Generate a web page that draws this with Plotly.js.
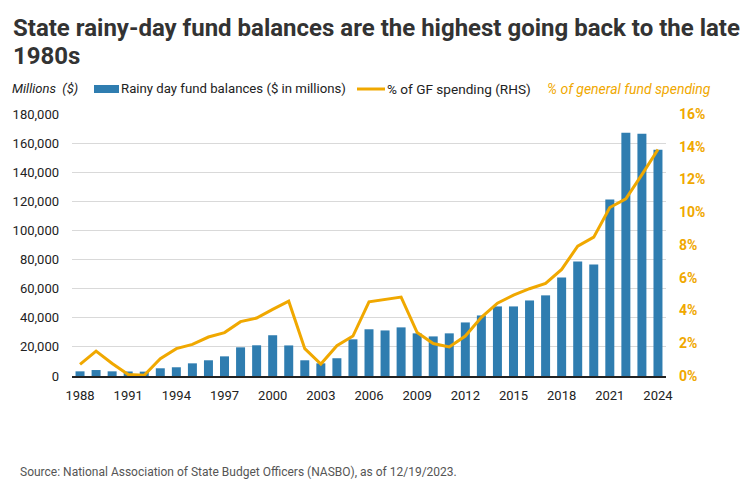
<!DOCTYPE html>
<html>
<head>
<meta charset="utf-8">
<script src="https://cdn.plot.ly/plotly-3.0.1.min.js"></script>
<style>
  html, body { margin: 0; padding: 0; background: #fff; }
  #chart { width: 751px; height: 492px; }
</style>
</head>
<body>
<div id="chart"></div>
<script>
// fiscal years shown on the x axis
const years = [1988, 1989, 1990, 1991, 1992, 1993, 1994, 1995, 1996, 1997, 1998, 1999,
  2000, 2001, 2002, 2003, 2004, 2005, 2006, 2007, 2008, 2009, 2010, 2011, 2012,
  2013, 2014, 2015, 2016, 2017, 2018, 2019, 2020, 2021, 2022, 2023, 2024];

// rainy day fund balances, $ millions
const balances = [3200, 4100, 3200, 3100, 3000, 5300, 6000, 8700, 10800, 13500, 19700, 21100,
  28000, 21000, 10800, 8700, 12200, 25200, 32100, 31300, 33400, 29300, 27200, 29300, 36800,
  41600, 47800, 47800, 51900, 55400, 67700, 78700, 76600, 121200, 167200, 166500, 155500];

// balance as % of general fund spending (RHS)
const pctGF = [0.71, 1.52, 0.76, 0.09, 0.05, 1.06, 1.67, 1.93, 2.38, 2.65, 3.32, 3.54,
  4.07, 4.57, 1.67, 0.73, 1.85, 2.44, 4.53, 4.68, 4.82, 2.65, 1.98, 1.77, 2.44,
  3.58, 4.45, 4.94, 5.33, 5.65, 6.51, 7.93, 8.48, 10.29, 10.82, 12.3, 13.83];

const xTicks = [1988, 1991, 1994, 1997, 2000, 2003, 2006, 2009, 2012, 2015, 2018, 2021, 2024];

const titleLines = [
  'State rainy-day fund balances are the highest going back to the late',
  '1980s',
];

const BLUE = '#2f7db0';
const GOLD = '#f0a800';
const FONT = 'Roboto, "Liberation Sans", sans-serif';

const traces = [
  {
    type: 'bar',
    x: years,
    y: balances,
    name: 'Rainy day fund balances ($ in millions)',
    marker: { color: BLUE },
    width: 0.56,
    hoverinfo: 'x+y',
  },
  {
    type: 'scatter',
    mode: 'lines',
    x: years,
    y: pctGF,
    yaxis: 'y2',
    name: '% of GF spending (RHS)',
    line: { color: GOLD, width: 3 },
  },
];

// pixel -> paper helpers; plot area spans x 72..666, y 114..376
const px = p => (p - 72) / 594;
const py = p => (376 - p) / 262;

const annotations = titleLines.map((t, i) => ({
  text: '<b>' + t + '</b>',
  xref: 'paper', yref: 'paper',
  x: px(11), y: py(28 + i * 28), xanchor: 'left', yanchor: 'middle',
  showarrow: false,
  font: { family: FONT, size: 24, color: '#333' },
}));

function label(text, x, y, font) {
  return { text, xref: 'paper', yref: 'paper', x: px(x), y: py(y),
    xanchor: 'left', yanchor: 'middle', showarrow: false, font };
}

annotations.push(
  label('<i>Millions  ($)</i>', 10, 89, { family: FONT, size: 13, color: '#222' }),
  label(traces[0].name, 119, 89, { family: FONT, size: 13.2, color: '#222' }),
  label(traces[1].name, 385, 89, { family: FONT, size: 13.6, color: '#222' }),
  label('<i>% of general fund spending</i>', 545, 89, { family: FONT, size: 14, color: GOLD }),
  label('Source: National Association of State Budget Officers (NASBO), as of 12/19/2023.', 18, 472,
    { family: FONT, size: 12, color: '#555' })
);

// hand-drawn legend keys (the built-in legend swatches are too small)
const shapes = [
  { type: 'rect', xref: 'paper', yref: 'paper', x0: px(94), x1: px(119), y0: py(93), y1: py(85),
    fillcolor: BLUE, line: { width: 0 } },
  { type: 'line', xref: 'paper', yref: 'paper', x0: px(357), x1: px(385), y0: py(89), y1: py(89),
    line: { color: GOLD, width: 3 } },
];

const layout = {
  width: 751,
  height: 492,
  margin: { l: 72, r: 85, t: 114, b: 116 },
  paper_bgcolor: '#fff',
  plot_bgcolor: '#fff',
  font: { family: FONT, size: 13, color: '#222' },
  showlegend: false,
  xaxis: {
    type: 'linear',
    range: [1987.5, 2024.5],
    tickvals: xTicks,
    ticktext: xTicks.map(String),
    showgrid: false,
    zeroline: false,
    showline: true,
    linecolor: '#222',
    linewidth: 2,
    ticks: '',
    ticklabelstandoff: 6,
    tickfont: { family: FONT, size: 13, color: '#222' },
    fixedrange: true,
  },
  yaxis: {
    range: [0, 180000],
    dtick: 20000,
    tickformat: ',d',
    gridcolor: '#d9d9d9',
    gridwidth: 1,
    zeroline: false,
    showline: false,
    ticks: '',
    ticklabelstandoff: 12,
    tickfont: { family: FONT, size: 13, color: '#222' },
    fixedrange: true,
  },
  yaxis2: {
    overlaying: 'y',
    side: 'right',
    range: [0, 16],
    dtick: 2,
    ticksuffix: '%',
    showgrid: false,
    zeroline: false,
    showline: false,
    ticks: '',
    ticklabelstandoff: 12,
    tickfont: { family: FONT, size: 14, color: GOLD, weight: 'bold' },
    fixedrange: true,
  },
  shapes: shapes,
  annotations: annotations,
};

Plotly.newPlot('chart', traces, layout, { displayModeBar: false, responsive: false });
</script>
</body>
</html>
